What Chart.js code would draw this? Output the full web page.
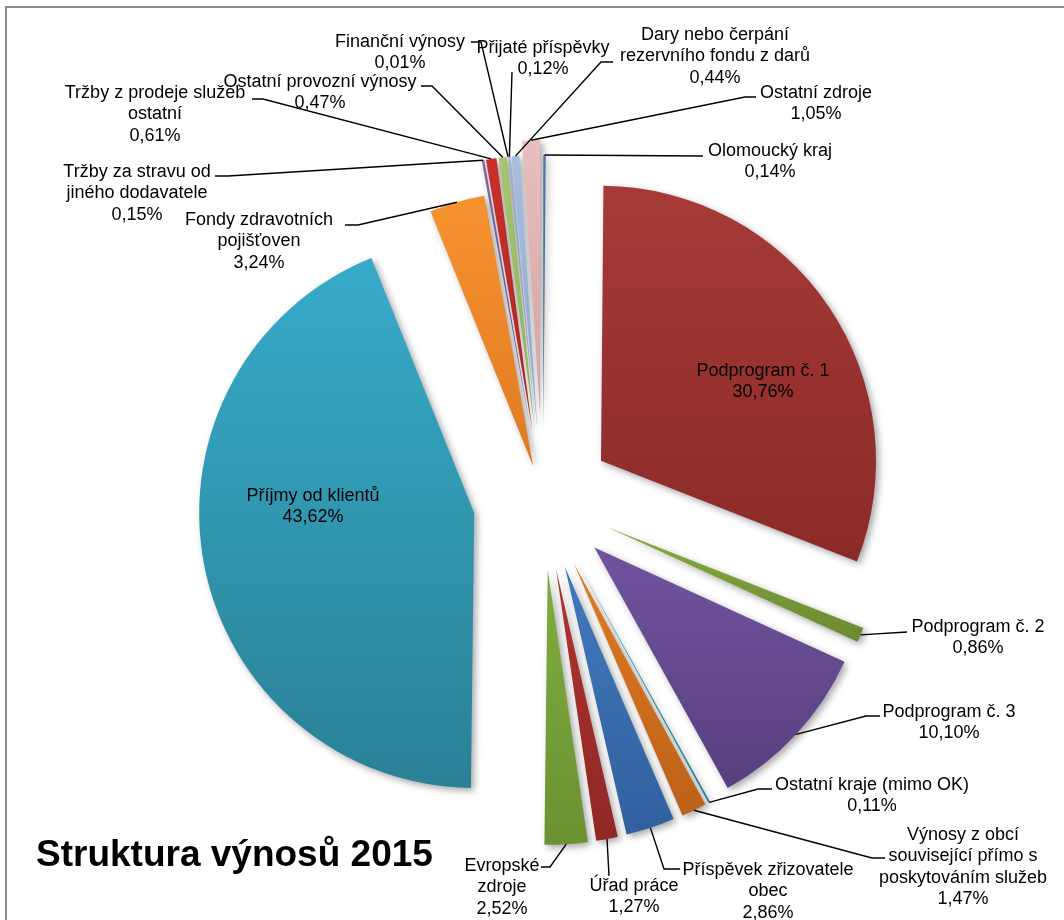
<!DOCTYPE html>
<html lang="cs">
<head>
<meta charset="utf-8">
<title>Struktura výnosů 2015</title>
<script src="https://cdn.jsdelivr.net/npm/chart.js@4.4.1/dist/chart.umd.min.js"></script>
<style>
  html, body { margin: 0; padding: 0; background: #fff; }
  canvas { display: block; }
</style>
</head>
<body>
<canvas id="graf" width="1064" height="920"></canvas>
<script>
// kategorie po směru hodinových ručiček od 12 hodin
const kategorie = [
  'Olomoucký kraj',
  'Podprogram č. 1',
  'Podprogram č. 2',
  'Podprogram č. 3',
  'Ostatní kraje (mimo OK)',
  'Výnosy z obcí související přímo s poskytováním služeb',
  'Příspěvek zřizovatele obec',
  'Úřad práce',
  'Evropské zdroje',
  'Příjmy od klientů',
  'Fondy zdravotních pojišťoven',
  'Tržby za stravu od jiného dodavatele',
  'Tržby z prodeje služeb ostatní',
  'Ostatní provozní výnosy',
  'Finanční výnosy',
  'Přijaté příspěvky',
  'Dary nebo čerpání rezervního fondu z darů',
  'Ostatní zdroje'
];
// podíl na výnosech v %
const podily = [0.14, 30.76, 0.86, 10.10, 0.11, 1.47, 2.86, 1.27, 2.52, 43.62,
                3.24, 0.15, 0.61, 0.47, 0.01, 0.12, 0.44, 1.05];

// styl: barva nahoře / dole u každé výseče
const barvyHore = ['#5A8AC6', '#A63A37', '#86AC42', '#7152A0', '#3DB0CE', '#E07C22',
                   '#4279BD', '#B3332F', '#80AD3E', '#37ABC9', '#F7932F', '#8468AA',
                   '#C8302C', '#A8C670', '#4BACC6', '#A0B6DC', '#A6BEE0', '#E8C0BF'];
const barvyDole = ['#3E6AA0', '#8A2A28', '#6A8A30', '#58407E', '#2A8AA4', '#BC6119',
                   '#30609E', '#8E2725', '#6A9232', '#2A8196', '#E07A22', '#6A5090',
                   '#A82825', '#8FB055', '#3A90A8', '#8098C4', '#8CA6CC', '#D2A2A1'];
const vysunuti = [70, 70, 70, 70, 70, 70, 70, 70, 70, 70, 35, 70, 70, 70, 70, 70, 70, 85];
const POLOMER = 275;

// rozmístění popisků: střed první řádky, šířka zalomení, vodicí čára
const rozmisteni = [
  { x: 770, y: 151, w: 200, cara: [[703, 156]] },
  { x: 763, y: 371, w: 200, cara: null },
  { x: 978, y: 627, w: 200, cara: [[907, 632]] },
  { x: 949, y: 712, w: 200, cara: [[880, 716], [866, 716]] },
  { x: 872, y: 785, w: 260, cara: [[772, 789], [758, 789]] },
  { x: 963, y: 835, w: 180, cara: [[885, 858], [872, 858]] },
  { x: 768, y: 870, w: 180, cara: [[680, 869], [664, 869]] },
  { x: 634, y: 886, w: 120, cara: [[609, 876]] },
  { x: 502, y: 866, w: 80,  cara: [[541, 867], [550, 867]] },
  { x: 313, y: 496, w: 250, cara: null },
  { x: 259, y: 220, w: 170, cara: [[345, 225], [358, 225]] },
  { x: 137, y: 172, w: 160, cara: [[215, 176], [228, 176]] },
  { x: 155, y: 93,  w: 200, cara: [[252, 99], [263, 99]] },
  { x: 320, y: 82,  w: 260, cara: [[421, 86], [432, 86]] },
  { x: 400, y: 42,  w: 200, cara: [[471, 42], [481, 42]] },
  { x: 543, y: 48,  w: 200, cara: [[512, 72]] },
  { x: 715, y: 35,  w: 205, cara: [[613, 62], [601, 62]] },
  { x: 816, y: 93,  w: 200, cara: [[756, 97], [745, 97]] }
];

const PISMO = '"Liberation Sans", Arial, sans-serif';

function zalom(ctx, text, maxW) {
  const slova = text.split(' ');
  const radky = [];
  let cur = '';
  for (const s of slova) {
    const t = cur ? cur + ' ' + s : s;
    if (cur && ctx.measureText(t).width > maxW) { radky.push(cur); cur = s; }
    else cur = t;
  }
  if (cur) radky.push(cur);
  return radky;
}

// svislý přechod přes výšku dané výseče
function prechod(c) {
  const i = c.dataIndex;
  const ch = c.chart, a = ch.chartArea;
  if (!a) return barvyHore[i];
  const cy = (a.top + a.bottom) / 2;
  const soucet = podily.reduce((s, v) => s + v, 0);
  let pred = 0;
  for (let k = 0; k < i; k++) pred += podily[k];
  const a0 = -Math.PI / 2 + 2 * Math.PI * pred / soucet;
  const a1 = a0 + 2 * Math.PI * podily[i] / soucet;
  let ymin = cy, ymax = cy;
  for (let s = 0; s <= 24; s++) {
    const y = cy + Math.sin(a0 + (a1 - a0) * s / 24) * POLOMER;
    ymin = Math.min(ymin, y);
    ymax = Math.max(ymax, y);
  }
  const g = ch.ctx.createLinearGradient(0, ymin, 0, ymax);
  g.addColorStop(0, barvyHore[i]);
  g.addColorStop(1, barvyDole[i]);
  return g;
}

// vysunuté výseče + stín
const vysunutePlugin = {
  id: 'vysunute',
  beforeDatasetDraw(chart, args) {
    const ctx = chart.ctx;
    ctx.save();
    ctx.shadowColor = 'rgba(0,0,0,0.35)';
    ctx.shadowBlur = 7;
    ctx.shadowOffsetX = 3;
    ctx.shadowOffsetY = 3;
    args.meta.data.forEach((arc, i) => {
      const mid = (arc.startAngle + arc.endAngle) / 2;
      ctx.save();
      ctx.translate(Math.cos(mid) * vysunuti[i], Math.sin(mid) * vysunuti[i]);
      arc.draw(ctx);
      ctx.restore();
    });
    ctx.restore();
    return false;
  }
};

// popisky, vodicí čáry, titulek, rámeček
const popiskyPlugin = {
  id: 'popisky',
  beforeDraw(chart) {
    const ctx = chart.ctx;
    ctx.save();
    ctx.strokeStyle = '#8a8a8a';
    ctx.lineWidth = 2;
    ctx.strokeRect(6, 7, 1100, 1000);
    ctx.restore();
  },
  afterDraw(chart) {
    const ctx = chart.ctx;
    const meta = chart.getDatasetMeta(0);
    ctx.save();
    ctx.font = '18px ' + PISMO;
    ctx.fillStyle = '#000';
    ctx.textAlign = 'center';
    ctx.textBaseline = 'middle';
    meta.data.forEach((arc, i) => {
      const r = rozmisteni[i];
      const radky = zalom(ctx, kategorie[i], r.w);
      radky.push(podily[i].toFixed(2).replace('.', ',') + '%');
      radky.forEach((t, k) => ctx.fillText(t, r.x, r.y + k * 21.5));
      if (r.cara) {
        const mid = (arc.startAngle + arc.endAngle) / 2;
        const d = vysunuti[i] + arc.outerRadius;
        ctx.beginPath();
        ctx.moveTo(r.cara[0][0], r.cara[0][1]);
        for (let k = 1; k < r.cara.length; k++) ctx.lineTo(r.cara[k][0], r.cara[k][1]);
        ctx.lineTo(arc.x + Math.cos(mid) * d, arc.y + Math.sin(mid) * d);
        ctx.strokeStyle = '#000';
        ctx.lineWidth = 1.4;
        ctx.stroke();
      }
    });
    ctx.font = 'bold 37px ' + PISMO;
    ctx.textAlign = 'left';
    ctx.textBaseline = 'alphabetic';
    ctx.fillText('Struktura výnosů 2015', 36, 866);
    ctx.restore();
  }
};

new Chart(document.getElementById('graf'), {
  type: 'pie',
  data: {
    labels: kategorie,
    datasets: [{
      data: podily,
      borderWidth: 0,
      backgroundColor: prechod
    }]
  },
  options: {
    responsive: false,
    animation: false,
    events: [],
    radius: POLOMER,
    layout: { padding: { left: 22, right: 0, top: 80, bottom: 0 } },
    plugins: {
      legend: { display: false },
      tooltip: { enabled: false },
      title: { display: false }
    }
  },
  plugins: [vysunutePlugin, popiskyPlugin]
});
</script>
</body>
</html>
